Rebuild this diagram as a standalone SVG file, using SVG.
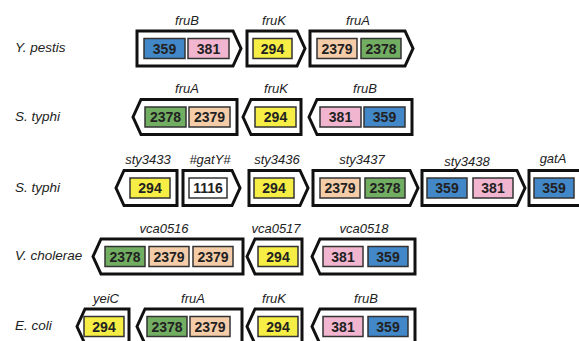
<svg xmlns="http://www.w3.org/2000/svg" width="579" height="341" viewBox="0 0 579 341">
<style>
.bg{fill:#ffffff}
.arr{fill:#ffffff;stroke:#111111;stroke-width:3;stroke-linejoin:miter}
.box{stroke:#333333;stroke-width:1.5}
.c359{fill:#4287c7}
.c381{fill:#f2b5cf}
.c294{fill:#f6ee45}
.c2379{fill:#f5cca8}
.c2378{fill:#72ae62}
.c1116{fill:#ffffff}
.num{font-family:"Liberation Sans",Arial,sans-serif;font-weight:bold;font-size:14px;fill:#222222;text-anchor:middle}
.gene{font-family:"Liberation Sans",Arial,sans-serif;font-style:italic;font-size:13px;fill:#222222;text-anchor:middle}
.sp{font-family:"Liberation Sans",Arial,sans-serif;font-style:italic;font-size:13.5px;fill:#222222}
</style>
<rect class="bg" x="0" y="0" width="579" height="341"/>
<g id="species">
<text class="sp" x="15" y="51.5">Y. pestis</text>
<text class="sp" x="15" y="120.5">S. typhi</text>
<text class="sp" x="15" y="191.5">S. typhi</text>
<text class="sp" x="15" y="260">V. cholerae</text>
<text class="sp" x="15" y="330">E. coli</text>
</g>
<g id="connectors"></g>
<!-- Row 1: Y. pestis -->
<g id="ypestis-fruB">
<text class="gene" x="187" y="24.5">fruB</text>
<path class="arr" d="M137,31 H233 L241,48.5 L233,66 H137 Z"/>
<rect class="box c359" x="144" y="38.5" width="41" height="20"/><text class="num" x="164.5" y="53.5">359</text>
<rect class="box c381" x="188" y="38.5" width="41" height="20"/><text class="num" x="208.5" y="53.5">381</text>
</g>
<g id="ypestis-fruK">
<text class="gene" x="274" y="24.5">fruK</text>
<path class="arr" d="M247,31 H297 L305,48.5 L297,66 H247 Z"/>
<rect class="box c294" x="253" y="38.5" width="39" height="20"/><text class="num" x="272.5" y="53.5">294</text>
</g>
<g id="ypestis-fruA">
<text class="gene" x="358" y="24.5">fruA</text>
<path class="arr" d="M310,31 H405 L413,48.5 L405,66 H310 Z"/>
<rect class="box c2379" x="317" y="38.5" width="40" height="20"/><text class="num" x="337" y="53.5">2379</text>
<rect class="box c2378" x="361" y="38.5" width="40" height="20"/><text class="num" x="381" y="53.5">2378</text>
</g>
<!-- Row 2: S. typhi -->
<g id="styphi1-fruA">
<text class="gene" x="187" y="93">fruA</text>
<path class="arr" d="M133,117 L141,99.5 H237 V134.5 H141 Z"/>
<rect class="box c2378" x="145" y="107" width="41" height="20"/><text class="num" x="165.5" y="122">2378</text>
<rect class="box c2379" x="189" y="107" width="41" height="20"/><text class="num" x="209.5" y="122">2379</text>
</g>
<g id="styphi1-fruK">
<text class="gene" x="276" y="93">fruK</text>
<path class="arr" d="M243,117 L251,99.5 H301 V134.5 H251 Z"/>
<rect class="box c294" x="255" y="107" width="41" height="20"/><text class="num" x="275.5" y="122">294</text>
</g>
<g id="styphi1-fruB">
<text class="gene" x="365" y="93">fruB</text>
<path class="arr" d="M309,117 L317,99.5 H412 V134.5 H317 Z"/>
<rect class="box c381" x="320" y="107" width="41" height="20"/><text class="num" x="340.5" y="122">381</text>
<rect class="box c359" x="364" y="107" width="41" height="20"/><text class="num" x="384.5" y="122">359</text>
</g>
<!-- Row 3: S. typhi -->
<g id="styphi2-sty3433">
<text class="gene" x="148" y="164">sty3433</text>
<path class="arr" d="M116,188 L124,170.5 H177 V205.5 H124 Z"/>
<rect class="box c294" x="130" y="178" width="40" height="20"/><text class="num" x="150" y="193">294</text>
</g>
<g id="styphi2-gatY">
<text class="gene" x="210" y="164">#gatY#</text>
<path class="arr" d="M183,170.5 H232 L240,188 L232,205.5 H183 Z"/>
<rect class="box c1116" x="189" y="178" width="38" height="20"/><text class="num" x="208" y="193">1116</text>
</g>
<g id="styphi2-sty3436">
<text class="gene" x="277" y="164">sty3436</text>
<path class="arr" d="M249,170.5 H300 L308,188 L300,205.5 H249 Z"/>
<rect class="box c294" x="254" y="178" width="40" height="20"/><text class="num" x="274" y="193">294</text>
</g>
<g id="styphi2-sty3437">
<text class="gene" x="362" y="164">sty3437</text>
<path class="arr" d="M313,170.5 H410 L418,188 L410,205.5 H313 Z"/>
<rect class="box c2379" x="320" y="178" width="40" height="20"/><text class="num" x="340" y="193">2379</text>
<rect class="box c2378" x="365" y="178" width="40" height="20"/><text class="num" x="385" y="193">2378</text>
</g>
<g id="styphi2-sty3438">
<text class="gene" x="467" y="166">sty3438</text>
<path class="arr" d="M422,170.5 H517 L525,188 L517,205.5 H422 Z"/>
<rect class="box c359" x="427" y="178" width="40" height="20"/><text class="num" x="447" y="193">359</text>
<rect class="box c381" x="473" y="178" width="40" height="20"/><text class="num" x="493" y="193">381</text>
</g>
<g id="styphi2-gatA">
<text class="gene" x="553" y="163">gatA</text>
<path class="arr" d="M529,170.5 H590 L598,188 L590,205.5 H529 Z"/>
<rect class="box c359" x="534" y="178" width="40" height="20"/><text class="num" x="554" y="193">359</text>
</g>
<!-- Row 4: V. cholerae -->
<g id="vcholerae-vca0516">
<text class="gene" x="164" y="232.5">vca0516</text>
<path class="arr" d="M93,256.5 L101,239 H243 V274 H101 Z"/>
<rect class="box c2378" x="105" y="246.5" width="40" height="20"/><text class="num" x="125" y="261.5">2378</text>
<rect class="box c2379" x="149" y="246.5" width="40" height="20"/><text class="num" x="169" y="261.5">2379</text>
<rect class="box c2379" x="193" y="246.5" width="40" height="20"/><text class="num" x="213" y="261.5">2379</text>
</g>
<g id="vcholerae-vca0517">
<text class="gene" x="276" y="232.5">vca0517</text>
<path class="arr" d="M247,256.5 L255,239 H302 V274 H255 Z"/>
<rect class="box c294" x="258" y="246.5" width="40" height="20"/><text class="num" x="278" y="261.5">294</text>
</g>
<g id="vcholerae-vca0518">
<text class="gene" x="364" y="232.5">vca0518</text>
<path class="arr" d="M312,256.5 L320,239 H415 V274 H320 Z"/>
<rect class="box c381" x="323" y="246.5" width="40" height="20"/><text class="num" x="343" y="261.5">381</text>
<rect class="box c359" x="368" y="246.5" width="40" height="20"/><text class="num" x="388" y="261.5">359</text>
</g>
<!-- Row 5: E. coli -->
<g id="ecoli-yeiC">
<text class="gene" x="106" y="302.5">yeiC</text>
<path class="arr" d="M77,326.5 L85,309 H129 V344 H85 Z"/>
<rect class="box c294" x="84" y="316.5" width="40" height="20"/><text class="num" x="104" y="331.5">294</text>
</g>
<g id="ecoli-fruA">
<text class="gene" x="193" y="302.5">fruA</text>
<path class="arr" d="M137,326.5 L145,309 H242 V344 H145 Z"/>
<rect class="box c2378" x="147" y="316.5" width="40" height="20"/><text class="num" x="167" y="331.5">2378</text>
<rect class="box c2379" x="190" y="316.5" width="40" height="20"/><text class="num" x="210" y="331.5">2379</text>
</g>
<g id="ecoli-fruK">
<text class="gene" x="274" y="302.5">fruK</text>
<path class="arr" d="M247,326.5 L255,309 H302 V344 H255 Z"/>
<rect class="box c294" x="258" y="316.5" width="40" height="20"/><text class="num" x="278" y="331.5">294</text>
</g>
<g id="ecoli-fruB">
<text class="gene" x="366" y="302.5">fruB</text>
<path class="arr" d="M312,326.5 L320,309 H415 V344 H320 Z"/>
<rect class="box c381" x="323" y="316.5" width="40" height="20"/><text class="num" x="343" y="331.5">381</text>
<rect class="box c359" x="368" y="316.5" width="40" height="20"/><text class="num" x="388" y="331.5">359</text>
</g>
</svg>
